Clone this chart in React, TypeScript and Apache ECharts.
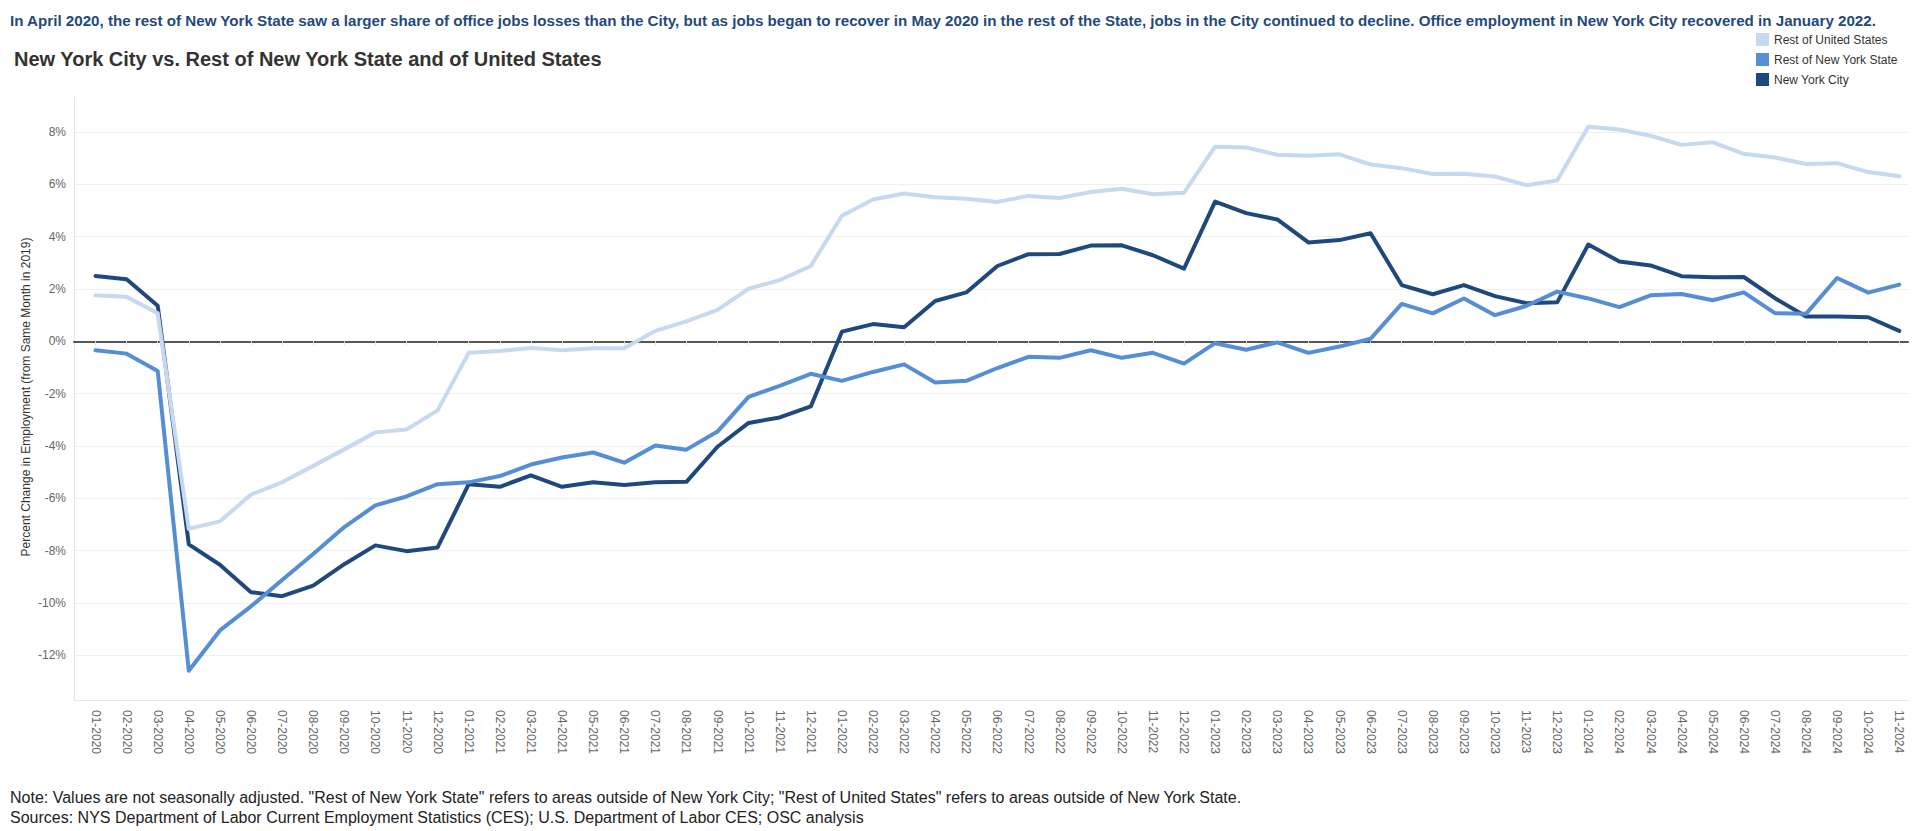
import React, { useEffect, useRef } from "react";
import * as echarts from "echarts";

const categories = [
  "01-2020", "02-2020", "03-2020", "04-2020", "05-2020", "06-2020", "07-2020", "08-2020", "09-2020", "10-2020", "11-2020", "12-2020",
  "01-2021", "02-2021", "03-2021", "04-2021", "05-2021", "06-2021", "07-2021", "08-2021", "09-2021", "10-2021", "11-2021", "12-2021",
  "01-2022", "02-2022", "03-2022", "04-2022", "05-2022", "06-2022", "07-2022", "08-2022", "09-2022", "10-2022", "11-2022", "12-2022",
  "01-2023", "02-2023", "03-2023", "04-2023", "05-2023", "06-2023", "07-2023", "08-2023", "09-2023", "10-2023", "11-2023", "12-2023",
  "01-2024", "02-2024", "03-2024", "04-2024", "05-2024", "06-2024", "07-2024", "08-2024", "09-2024", "10-2024", "11-2024",
];

const restOfUS = [
  1.76, 1.70, 1.07, -7.17, -6.88, -5.86, -5.39, -4.76, -4.13, -3.48, -3.37, -2.64,
  -0.44, -0.37, -0.25, -0.34, -0.26, -0.26, 0.40, 0.76, 1.20, 2.01, 2.34, 2.88,
  4.80, 5.42, 5.65, 5.51, 5.45, 5.33, 5.56, 5.48, 5.71, 5.83, 5.62, 5.68,
  7.44, 7.41, 7.13, 7.09, 7.15, 6.76, 6.62, 6.40, 6.41, 6.30, 5.97, 6.15,
  8.20, 8.10, 7.86, 7.51, 7.61, 7.17, 7.03, 6.78, 6.81, 6.47, 6.31,
];

const restOfNYS = [
  -0.34, -0.47, -1.13, -12.59, -11.05, -10.13, -9.12, -8.13, -7.10, -6.27, -5.93, -5.46,
  -5.39, -5.15, -4.71, -4.44, -4.25, -4.64, -3.98, -4.14, -3.45, -2.12, -1.70, -1.24,
  -1.51, -1.17, -0.88, -1.57, -1.51, -1.02, -0.59, -0.63, -0.34, -0.63, -0.44, -0.85,
  -0.07, -0.32, -0.04, -0.44, -0.20, 0.10, 1.43, 1.07, 1.64, 1.00, 1.35, 1.90,
  1.64, 1.31, 1.76, 1.81, 1.57, 1.87, 1.08, 1.05, 2.42, 1.86, 2.17,
];

const newYorkCity = [
  2.50, 2.37, 1.36, -7.76, -8.54, -9.59, -9.74, -9.34, -8.52, -7.80, -8.02, -7.88,
  -5.46, -5.56, -5.12, -5.56, -5.39, -5.49, -5.39, -5.37, -4.03, -3.12, -2.91, -2.49,
  0.37, 0.66, 0.54, 1.54, 1.87, 2.88, 3.33, 3.34, 3.66, 3.67, 3.29, 2.78,
  5.34, 4.90, 4.66, 3.78, 3.87, 4.13, 2.15, 1.80, 2.15, 1.73, 1.46, 1.49,
  3.70, 3.05, 2.90, 2.49, 2.45, 2.46, 1.65, 0.95, 0.95, 0.92, 0.40,
];

const yTickValues = [-12, -10, -8, -6, -4, -2, 0, 2, 4, 6, 8];

const seriesNames = ["Rest of United States", "Rest of New York State", "New York City"];
const seriesColors = ["#c6d9f1", "#558ed5", "#1f497d"];

const subtitleText =
  "In April 2020, the rest of New York State saw a larger share of office jobs losses than the City, but as jobs began to recover in May 2020 in the rest of the State, jobs in the City continued to decline. Office employment in New York City recovered in January 2022.";
const titleText = "New York City vs. Rest of New York State and of United States";
const yAxisTitle = "Percent Change in Employment (from Same Month in 2019)";
const noteText =
  'Note: Values are not seasonally adjusted. "Rest of New York State" refers to areas outside of New York City; "Rest of United States" refers to areas outside of New York State.';
const sourcesText =
  "Sources: NYS Department of Labor Current Employment Statistics (CES); U.S. Department of Labor CES; OSC analysis";

const FONT = '"Liberation Sans", Arial, sans-serif';

export default function App() {
  const ref = useRef<HTMLDivElement>(null);

  useEffect(() => {
    if (!ref.current) return;
    const chart = echarts.init(ref.current, null, { renderer: "svg" });
    const Y_MIN = -13.71;
    const Y_MAX = 9.34;

    const dataSets = [newYorkCity, restOfNYS, restOfUS];
    const names = [seriesNames[2], seriesNames[1], seriesNames[0]];
    const cols = [seriesColors[2], seriesColors[1], seriesColors[0]];

    chart.setOption({
      animation: false,
      backgroundColor: "#ffffff",
      textStyle: { fontFamily: FONT },
      color: cols,
      legend: {
        data: seriesNames,
        orient: "vertical",
        left: 1751,
        top: 28,
        itemWidth: 13,
        itemHeight: 13,
        itemGap: 7,
        icon: "rect",
        selectedMode: false,
        textStyle: { fontSize: 12, color: "#333333", fontFamily: FONT },
      },
      grid: [
        { left: 74, right: 12, top: 97, bottom: 131 },
        { left: 95.5, right: 20.7, top: 97, bottom: 131 },
      ],
      xAxis: [
        {
          gridIndex: 0,
          type: "value",
          min: 0,
          max: 1,
          position: "bottom",
          axisLine: { show: true, onZero: true, lineStyle: { color: "#555555", width: 2 } },
          axisTick: { show: false },
          axisLabel: { show: false },
          splitLine: { show: false },
        },
        {
          gridIndex: 0,
          type: "value",
          min: 0,
          max: 1,
          position: "bottom",
          axisLine: { show: true, onZero: false, lineStyle: { color: "#e6e6e6", width: 1 } },
          axisTick: { show: false },
          axisLabel: { show: false },
          splitLine: { show: false },
        },
        {
          gridIndex: 1,
          type: "category",
          data: categories,
          boundaryGap: false,
          axisLine: { show: false },
          axisTick: { show: true, interval: 0, length: 4, lineStyle: { color: "#e0e0e0" } },
          axisLabel: {
            interval: 0,
            rotate: -90,
            margin: 10,
            fontSize: 12,
            color: "#666666",
            fontFamily: FONT,
          },
          splitLine: { show: false },
        },
      ],
      yAxis: [
        {
          gridIndex: 0,
          type: "value",
          min: Y_MIN,
          max: Y_MAX,
          axisLine: { show: true, onZero: false, lineStyle: { color: "#e6e6e6", width: 1 } },
          axisTick: { show: false, customValues: yTickValues },
          axisLabel: {
            customValues: yTickValues,
            formatter: (v: number) => `${Math.round(v)}%`,
            fontSize: 12,
            color: "#666666",
            margin: 8,
            fontFamily: FONT,
          },
          splitLine: { show: true, lineStyle: { color: "#f0f0f0", width: 1 } },
        },
        {
          gridIndex: 1,
          type: "value",
          min: Y_MIN,
          max: Y_MAX,
          show: false,
          splitLine: { show: false },
        },
      ],
      series: dataSets.map((d, i) => ({
        name: names[i],
        type: "line",
        xAxisIndex: 2,
        yAxisIndex: 1,
        data: d,
        symbol: "none",
        showSymbol: false,
        smooth: false,
        z: 3 + i,
        lineStyle: { width: 4, color: cols[i], cap: "round", join: "round" },
        itemStyle: { color: cols[i] },
        emphasis: { disabled: true },
      })),
      graphic: [
        {
          type: "text",
          x: 10,
          y: 20,
          style: {
            text: subtitleText,
            font: `bold 15.15px ${FONT}`,
            fill: "#1f4a7c",
            verticalAlign: "middle",
          },
        },
        {
          type: "text",
          x: 14,
          y: 59,
          style: {
            text: titleText,
            font: `bold 20px ${FONT}`,
            fill: "#333333",
            verticalAlign: "middle",
          },
        },
        {
          type: "text",
          x: 26,
          y: 397,
          rotation: Math.PI / 2,
          style: {
            text: yAxisTitle,
            font: `12px ${FONT}`,
            fill: "#333333",
            align: "center",
            verticalAlign: "middle",
          },
        },
        {
          type: "text",
          x: 10,
          y: 797,
          style: {
            text: noteText,
            font: `16px ${FONT}`,
            fill: "#222222",
            verticalAlign: "middle",
          },
        },
        {
          type: "text",
          x: 10,
          y: 817,
          style: {
            text: sourcesText,
            font: `16px ${FONT}`,
            fill: "#222222",
            verticalAlign: "middle",
          },
        },
      ],
    });

    return () => chart.dispose();
  }, []);

  return (
    <div
      ref={ref}
      style={{ position: "absolute", left: 0, top: 0, width: 1920, height: 831 }}
    />
  );
}
